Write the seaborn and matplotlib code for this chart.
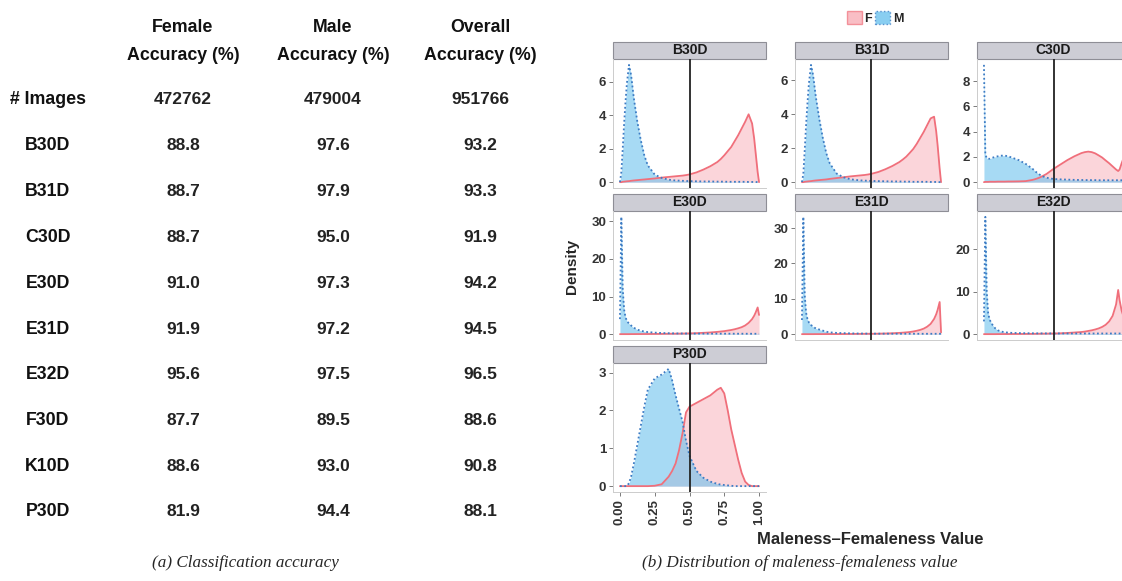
import pandas as pd
import numpy as np
import matplotlib
matplotlib.use("Agg")
import matplotlib.pyplot as plt
from matplotlib.patches import Rectangle, Patch
from matplotlib.ticker import MaxNLocator
import seaborn as sns

sns.set_style("white")
plt.rcParams["font.family"] = ["Liberation Sans", "DejaVu Sans"]
plt.rcParams["font.weight"] = "bold"

# ---- table data (left part) ----
CAMERAS = ["B30D", "B31D", "C30D", "E30D", "E31D", "E32D", "F30D", "K10D", "P30D"]
FEMALE_ACC = [88.8, 88.7, 88.7, 91.0, 91.9, 95.6, 87.7, 88.6, 81.9]
MALE_ACC = [97.6, 97.9, 95.0, 97.3, 97.2, 97.5, 89.5, 93.0, 94.4]
OVERALL_ACC = [93.2, 93.3, 91.9, 94.2, 94.5, 96.5, 88.6, 90.8, 88.1]
IMAGE_COUNTS = [472762, 479004, 951766]
COL_HEADERS = [("Female", "Accuracy (%)"), ("Male", "Accuracy (%)"), ("Overall", "Accuracy (%)")]

# ---- density data (right part) ----
FACETS = ["B30D", "B31D", "C30D", "E30D", "E31D", "E32D", "P30D"]
X_GRID = [0.0, 0.01, 0.02, 0.03, 0.04, 0.05, 0.065, 0.08, 0.1, 0.125,
          0.15, 0.175, 0.2, 0.25, 0.3, 0.35, 0.375, 0.4, 0.425, 0.45,
          0.475, 0.5, 0.55, 0.6, 0.65, 0.7, 0.725, 0.75, 0.775, 0.8,
          0.825, 0.85, 0.875, 0.9, 0.925, 0.95, 0.965, 0.975, 0.99, 1.0]

B30D_M = [0.0, 0.6, 2.0, 3.5, 4.8, 5.9, 7.0, 6.4, 5.0, 3.6,
          2.5, 1.6, 1.0, 0.45, 0.25, 0.15, 0.12, 0.1, 0.09, 0.08,
          0.07, 0.06, 0.05, 0.04, 0.04, 0.03, 0.03, 0.03, 0.02, 0.02,
          0.02, 0.02, 0.02, 0.02, 0.01, 0.01, 0.01, 0.01, 0.0, 0.0]
B30D_F = [0.0, 0.0, 0.02, 0.03, 0.04, 0.05, 0.06, 0.08, 0.1, 0.12,
          0.14, 0.16, 0.18, 0.22, 0.27, 0.31, 0.33, 0.35, 0.37, 0.39,
          0.42, 0.46, 0.58, 0.75, 0.95, 1.2, 1.38, 1.6, 1.85, 2.1,
          2.45, 2.8, 3.2, 3.6, 4.05, 3.5, 2.6, 1.8, 0.6, 0.0]
B31D_M = [0.0, 0.5, 1.9, 3.4, 4.7, 5.8, 6.9, 6.3, 5.0, 3.7,
          2.6, 1.7, 1.1, 0.5, 0.28, 0.17, 0.14, 0.12, 0.1, 0.09,
          0.08, 0.07, 0.06, 0.05, 0.04, 0.04, 0.03, 0.03, 0.03, 0.02,
          0.02, 0.02, 0.02, 0.02, 0.01, 0.01, 0.01, 0.01, 0.0, 0.0]
B31D_F = [0.0, 0.0, 0.02, 0.03, 0.04, 0.05, 0.06, 0.08, 0.1, 0.12,
          0.14, 0.16, 0.19, 0.24, 0.29, 0.34, 0.36, 0.38, 0.4, 0.42,
          0.45, 0.49, 0.6, 0.76, 0.95, 1.18, 1.33, 1.5, 1.72, 1.95,
          2.25, 2.6, 2.95, 3.35, 3.75, 3.85, 3.0, 2.2, 0.8, 0.0]
C30D_M = [9.3, 2.2, 1.9, 1.85, 1.85, 1.9, 1.95, 2.0, 2.05, 2.1,
          2.1, 2.05, 1.95, 1.75, 1.45, 1.05, 0.8, 0.6, 0.45, 0.35,
          0.3, 0.25, 0.22, 0.2, 0.18, 0.17, 0.17, 0.16, 0.16, 0.16,
          0.15, 0.15, 0.15, 0.15, 0.15, 0.15, 0.15, 0.15, 0.15, 0.15]
C30D_F = [0.0, 0.02, 0.02, 0.02, 0.03, 0.03, 0.03, 0.03, 0.04, 0.04,
          0.04, 0.05, 0.05, 0.06, 0.08, 0.18, 0.26, 0.36, 0.5, 0.65,
          0.85, 1.05, 1.4, 1.75, 2.05, 2.3, 2.38, 2.42, 2.38, 2.28,
          2.12, 1.95, 1.72, 1.5, 1.25, 1.0, 0.88, 1.0, 1.5, 1.8]
E30D_M = [4.0, 31.2, 12.0, 6.5, 4.5, 3.5, 2.8, 2.3, 1.7, 1.2,
          0.9, 0.7, 0.55, 0.4, 0.3, 0.25, 0.22, 0.2, 0.18, 0.17,
          0.16, 0.15, 0.14, 0.14, 0.13, 0.13, 0.12, 0.12, 0.12, 0.12,
          0.11, 0.11, 0.11, 0.11, 0.1, 0.1, 0.1, 0.1, 0.1, 0.1]
E30D_F = [0.0, 0.0, 0.0, 0.0, 0.0, 0.0, 0.0, 0.01, 0.01, 0.02,
          0.02, 0.03, 0.03, 0.05, 0.07, 0.1, 0.11, 0.12, 0.14, 0.16,
          0.18, 0.2, 0.26, 0.35, 0.45, 0.6, 0.7, 0.8, 0.95, 1.1,
          1.3, 1.55, 1.85, 2.3, 3.0, 4.0, 4.9, 5.7, 7.1, 5.1]
E31D_M = [4.0, 33.2, 11.0, 6.0, 4.2, 3.3, 2.6, 2.1, 1.6, 1.3,
          1.0, 0.7, 0.5, 0.35, 0.28, 0.22, 0.2, 0.18, 0.17, 0.16,
          0.15, 0.14, 0.13, 0.13, 0.12, 0.12, 0.11, 0.11, 0.11, 0.11,
          0.1, 0.1, 0.1, 0.1, 0.1, 0.1, 0.1, 0.1, 0.1, 0.1]
E31D_F = [0.0, 0.0, 0.0, 0.0, 0.0, 0.0, 0.0, 0.0, 0.01, 0.01,
          0.01, 0.02, 0.02, 0.02, 0.03, 0.05, 0.06, 0.07, 0.08, 0.09,
          0.1, 0.1, 0.13, 0.18, 0.25, 0.35, 0.42, 0.5, 0.6, 0.75,
          0.95, 1.2, 1.55, 2.1, 2.9, 4.3, 5.6, 6.8, 9.1, 0.5]
E32D_M = [3.0, 27.6, 10.0, 5.0, 3.5, 2.8, 2.0, 1.4, 0.9, 0.6,
          0.45, 0.35, 0.3, 0.25, 0.22, 0.2, 0.19, 0.18, 0.18, 0.17,
          0.17, 0.16, 0.16, 0.16, 0.15, 0.15, 0.15, 0.15, 0.15, 0.15,
          0.15, 0.15, 0.15, 0.15, 0.15, 0.15, 0.15, 0.15, 0.15, 0.15]
E32D_F = [0.0, 0.0, 0.0, 0.0, 0.0, 0.0, 0.0, 0.0, 0.01, 0.01,
          0.02, 0.02, 0.03, 0.04, 0.05, 0.07, 0.08, 0.1, 0.11, 0.12,
          0.14, 0.15, 0.2, 0.28, 0.38, 0.5, 0.6, 0.75, 0.9, 1.1,
          1.35, 1.7, 2.2, 3.0, 4.3, 7.0, 10.4, 8.0, 5.5, 4.5]
P30D_M = [0.0, 0.0, 0.0, 0.0, 0.0, 0.0, 0.08, 0.25, 0.6, 1.1,
          1.6, 2.1, 2.55, 2.85, 2.95, 3.1, 2.8, 2.4, 2.05, 1.7,
          1.2, 0.8, 0.4, 0.22, 0.12, 0.06, 0.04, 0.03, 0.02, 0.01,
          0.0, 0.0, 0.0, 0.0, 0.0, 0.0, 0.0, 0.0, 0.0, 0.0]
P30D_F = [0.0, 0.0, 0.0, 0.0, 0.0, 0.0, 0.0, 0.0, 0.0, 0.0,
          0.0, 0.0, 0.0, 0.01, 0.05, 0.25, 0.4, 0.6, 0.95, 1.4,
          1.95, 2.1, 2.2, 2.3, 2.4, 2.55, 2.6, 2.45, 2.0, 1.5,
          1.1, 0.7, 0.35, 0.12, 0.03, 0.0, 0.0, 0.0, 0.0, 0.0]

DENS = {
    "B30D": (B30D_F, B30D_M), "B31D": (B31D_F, B31D_M), "C30D": (C30D_F, C30D_M),
    "E30D": (E30D_F, E30D_M), "E31D": (E31D_F, E31D_M), "E32D": (E32D_F, E32D_M),
    "P30D": (P30D_F, P30D_M),
}
X_TICKS = [0.0, 0.25, 0.5, 0.75, 1.0]
THRESHOLD = 0.5

# long-form table for seaborn
rows = []
for name in FACETS:
    f_vals, m_vals = DENS[name]
    for g, vals in (("F", f_vals), ("M", m_vals)):
        for x, d in zip(X_GRID, vals):
            rows.append((name, g, x, d))
df = pd.DataFrame(rows, columns=["camera", "gender", "value", "density"])

LINE_COL = {"F": "#f06f7b", "M": "#3d7cc4"}
FILL_COL = {"F": "#f7a3ad", "M": "#6cc2ee"}
FILL_ALPHA = {"F": 0.45, "M": 0.6}

W, H = 1122, 581
fig = plt.figure(figsize=(W / 100, H / 100), dpi=100)


def fx(px):
    return px / W


def fy(py):
    return 1 - py / H


# ---- left: accuracy table ----
col_x = [183, 333, 480]
label_x = 48
tsize = 12.8
for cx, (l1, l2) in zip(col_x, COL_HEADERS):
    fig.text(fx(cx), fy(27), l1, ha="center", va="center", fontsize=tsize, color="#111111")
    fig.text(fx(cx), fy(55), l2, ha="center", va="center", fontsize=tsize, color="#111111")

fig.text(fx(label_x), fy(100), "# Images", ha="center", va="center", fontsize=tsize,
         color="#111111")
for cx, n in zip(col_x, IMAGE_COUNTS):
    fig.text(fx(cx), fy(100), str(n), ha="center", va="center", fontsize=tsize - 0.3,
             color="#222222")

for i, cam in enumerate(CAMERAS):
    y = 146 + i * 45.75
    fig.text(fx(label_x), fy(y), cam, ha="center", va="center", fontsize=tsize,
             color="#111111")
    for cx, v in zip(col_x, (FEMALE_ACC[i], MALE_ACC[i], OVERALL_ACC[i])):
        fig.text(fx(cx), fy(y), f"{v:.1f}", ha="center", va="center",
                 fontsize=tsize - 0.3, color="#222222")

# ---- right: faceted densities ----
panel_w, panel_h, strip_h = 153, 129, 17
for i, name in enumerate(FACETS):
    r, c = divmod(i, 3)
    left = 613 + c * 182
    strip_top = 42 + r * 152
    bottom = strip_top + strip_h + panel_h
    ax = fig.add_axes([fx(left), fy(bottom), panel_w / W, panel_h / H])
    sub = df[df["camera"] == name]

    for g in ("F", "M"):
        part = sub[sub["gender"] == g]
        ax.fill_between(part["value"], 0, part["density"], color=FILL_COL[g],
                        alpha=FILL_ALPHA[g], lw=0)
    sns.lineplot(data=sub, x="value", y="density", hue="gender", style="gender",
                 palette=LINE_COL, dashes={"F": "", "M": (1, 1.4)},
                 estimator=None, sort=False, legend=False, linewidth=1.3, ax=ax)
    ax.axvline(THRESHOLD, color="#222222", lw=1.3, zorder=5)

    ymax = sub["density"].max()
    ax.set_xlim(-0.05, 1.05)
    ax.set_ylim(-0.05 * ymax, 1.05 * ymax)
    ax.yaxis.set_major_locator(MaxNLocator(nbins=6, steps=[1, 2, 5, 10]))
    ax.set_xlabel("")
    ax.set_ylabel("")
    ax.tick_params(axis="y", labelsize=9.5, labelcolor="#333333", color="#666666",
                   length=3, width=0.6, pad=2, left=True)
    if name == "P30D":
        ax.set_xticks(X_TICKS)
        ax.set_xticklabels([f"{t:.2f}" for t in X_TICKS], rotation=90)
        ax.tick_params(axis="x", labelsize=9.5, labelcolor="#333333", color="#666666",
                       length=3, width=0.6, pad=2, bottom=True)
    else:
        ax.tick_params(axis="x", bottom=False, labelbottom=False)

    for s in ("top", "right"):
        ax.spines[s].set_visible(False)
    for s in ("left", "bottom"):
        ax.spines[s].set_color("#cccccc")
        ax.spines[s].set_linewidth(0.7)

    sh = strip_h / panel_h
    ax.add_patch(Rectangle((0, 1), 1, sh, transform=ax.transAxes, clip_on=False,
                           facecolor="#cdcdd5", edgecolor="#8e8e96", lw=0.8))
    ax.text(0.5, 1 + sh / 2, name, transform=ax.transAxes, ha="center",
            va="center", fontsize=10, color="#1a1a1a")

fig.text(fx(572), fy(266), "Density", rotation=90, ha="center", va="center",
         fontsize=11)
fig.text(fx(870), fy(540), "Maleness\u2013Femaleness Value", ha="center",
         va="center", fontsize=12)

handles = [
    Patch(facecolor=FILL_COL["F"], edgecolor=LINE_COL["F"], alpha=0.7, label="F"),
    Patch(facecolor=FILL_COL["M"], edgecolor=LINE_COL["M"], linestyle=":", alpha=0.8,
          label="M"),
]
fig.legend(handles=handles, loc="center", bbox_to_anchor=(fx(875), fy(18)),
           ncol=2, frameon=False, fontsize=9, handlelength=1.2, handleheight=1.2,
           handletextpad=0.2, columnspacing=0.3, borderpad=0)

# captions
cap = dict(ha="center", va="center", style="italic", fontsize=12.3,
           weight="normal", family=["Liberation Serif", "DejaVu Serif"])
fig.text(fx(245), fy(563), "(a) Classification accuracy", **cap)
fig.text(fx(800), fy(563), "(b) Distribution of maleness-femaleness value", **cap)

fig.savefig("out.png", dpi=100)
